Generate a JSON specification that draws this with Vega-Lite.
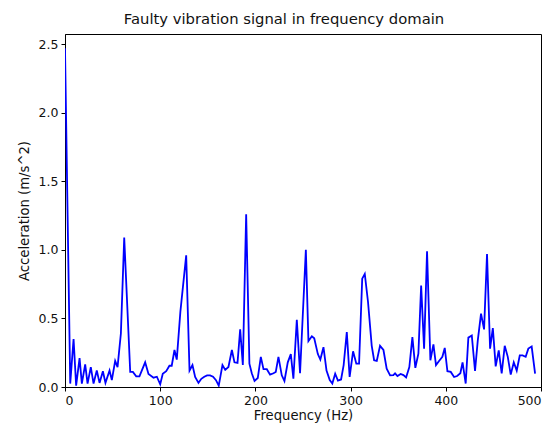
{
  "$schema": "https://vega.github.io/schema/vega-lite/v6.json",
  "autosize": "none",
  "width": 476,
  "height": 353,
  "padding": {"left": 65, "top": 34, "right": 9, "bottom": 40},
  "background": "white",
  "title": {"text": "Faulty vibration signal in frequency domain", "font": "DejaVu Sans", "fontSize": 14.8, "fontWeight": "normal", "color": "#111111", "offset": 7, "anchor": "middle", "dx": -19},
  "config": {
    "view": {"stroke": "black", "strokeWidth": 1},
    "axis": {"grid": false, "domainColor": "black", "tickColor": "black", "labelColor": "#111111", "titleColor": "#111111", "labelFont": "DejaVu Sans", "titleFont": "DejaVu Sans", "labelFontSize": 12.5, "titleFontSize": 13.2, "titleFontWeight": "normal", "tickSize": 4, "labelPadding": 3, "domainWidth": 1, "tickWidth": 1}
  },
  "data": {"values": [
    {"f": 0, "a": 2.47}, {"f": 5.5, "a": 0.025}, {"f": 9.0, "a": 0.35}, {"f": 11.7, "a": 0.01},
    {"f": 15.3, "a": 0.21}, {"f": 17.7, "a": 0.025}, {"f": 21.2, "a": 0.165}, {"f": 23.7, "a": 0.025},
    {"f": 27.1, "a": 0.145}, {"f": 30.0, "a": 0.025}, {"f": 33.4, "a": 0.12}, {"f": 36.3, "a": 0.03},
    {"f": 39.8, "a": 0.115}, {"f": 42.5, "a": 0.03}, {"f": 46.8, "a": 0.12}, {"f": 49.2, "a": 0.05},
    {"f": 52.7, "a": 0.19}, {"f": 55.2, "a": 0.145}, {"f": 58.7, "a": 0.39}, {"f": 62.2, "a": 1.09},
    {"f": 68.5, "a": 0.11}, {"f": 71.3, "a": 0.11}, {"f": 74.8, "a": 0.078}, {"f": 78.2, "a": 0.078},
    {"f": 84.2, "a": 0.18}, {"f": 87.7, "a": 0.095}, {"f": 93.0, "a": 0.068}, {"f": 96.5, "a": 0.075},
    {"f": 100.0, "a": 0.02}, {"f": 102.7, "a": 0.097}, {"f": 106.3, "a": 0.115}, {"f": 109.7, "a": 0.155},
    {"f": 112.1, "a": 0.155}, {"f": 115.0, "a": 0.27}, {"f": 117.4, "a": 0.2}, {"f": 121.2, "a": 0.55},
    {"f": 127.3, "a": 0.96}, {"f": 130.8, "a": 0.12}, {"f": 133.9, "a": 0.16}, {"f": 136.7, "a": 0.073},
    {"f": 140.2, "a": 0.03}, {"f": 143.2, "a": 0.06}, {"f": 146.3, "a": 0.075}, {"f": 149.3, "a": 0.085},
    {"f": 152.4, "a": 0.085}, {"f": 155.5, "a": 0.075}, {"f": 158.6, "a": 0.05}, {"f": 161.5, "a": 0.01},
    {"f": 165.4, "a": 0.16}, {"f": 168.3, "a": 0.125}, {"f": 171.7, "a": 0.146}, {"f": 175.3, "a": 0.27},
    {"f": 178.0, "a": 0.18}, {"f": 181.2, "a": 0.175}, {"f": 184.0, "a": 0.42}, {"f": 186.8, "a": 0.16},
    {"f": 190.3, "a": 1.26}, {"f": 193.7, "a": 0.17}, {"f": 196.2, "a": 0.1}, {"f": 199.1, "a": 0.044},
    {"f": 202.5, "a": 0.066}, {"f": 205.7, "a": 0.22}, {"f": 208.5, "a": 0.13}, {"f": 212.0, "a": 0.13},
    {"f": 215.4, "a": 0.09}, {"f": 219.0, "a": 0.1}, {"f": 221.4, "a": 0.11}, {"f": 224.2, "a": 0.22},
    {"f": 227.7, "a": 0.085}, {"f": 230.5, "a": 0.044}, {"f": 234.0, "a": 0.18}, {"f": 237.2, "a": 0.24},
    {"f": 239.9, "a": 0.06}, {"f": 243.5, "a": 0.49}, {"f": 246.9, "a": 0.1}, {"f": 253.0, "a": 1.0},
    {"f": 255.7, "a": 0.335}, {"f": 259.3, "a": 0.37}, {"f": 261.8, "a": 0.355}, {"f": 265.6, "a": 0.24},
    {"f": 268.2, "a": 0.2}, {"f": 271.5, "a": 0.29}, {"f": 274.7, "a": 0.12}, {"f": 278.1, "a": 0.05},
    {"f": 280.8, "a": 0.025}, {"f": 283.8, "a": 0.097}, {"f": 286.7, "a": 0.047}, {"f": 290.0, "a": 0.055},
    {"f": 292.7, "a": 0.16}, {"f": 296.0, "a": 0.4}, {"f": 299.0, "a": 0.073}, {"f": 302.6, "a": 0.26},
    {"f": 306.0, "a": 0.17}, {"f": 308.9, "a": 0.17}, {"f": 312.2, "a": 0.79}, {"f": 314.9, "a": 0.825},
    {"f": 318.3, "a": 0.62}, {"f": 322.2, "a": 0.3}, {"f": 324.7, "a": 0.195}, {"f": 327.5, "a": 0.19},
    {"f": 330.9, "a": 0.3}, {"f": 334.5, "a": 0.27}, {"f": 337.9, "a": 0.134}, {"f": 341.5, "a": 0.085},
    {"f": 344.9, "a": 0.087}, {"f": 346.7, "a": 0.1}, {"f": 349.2, "a": 0.08}, {"f": 352.6, "a": 0.095},
    {"f": 355.5, "a": 0.087}, {"f": 358.3, "a": 0.07}, {"f": 361.7, "a": 0.146}, {"f": 364.9, "a": 0.364},
    {"f": 368.0, "a": 0.14}, {"f": 371.2, "a": 0.243}, {"f": 374.1, "a": 0.74}, {"f": 377.2, "a": 0.28},
    {"f": 380.3, "a": 0.99}, {"f": 383.8, "a": 0.195}, {"f": 387.0, "a": 0.31}, {"f": 389.7, "a": 0.16},
    {"f": 392.9, "a": 0.19}, {"f": 396.4, "a": 0.22}, {"f": 398.9, "a": 0.285}, {"f": 401.7, "a": 0.115},
    {"f": 405.2, "a": 0.11}, {"f": 408.7, "a": 0.073}, {"f": 411.9, "a": 0.08}, {"f": 415.3, "a": 0.1},
    {"f": 417.6, "a": 0.18}, {"f": 420.9, "a": 0.025}, {"f": 423.7, "a": 0.36}, {"f": 427.3, "a": 0.376},
    {"f": 430.7, "a": 0.117}, {"f": 433.6, "a": 0.34}, {"f": 437.0, "a": 0.535}, {"f": 440.2, "a": 0.42},
    {"f": 443.3, "a": 0.97}, {"f": 446.5, "a": 0.28}, {"f": 449.4, "a": 0.43}, {"f": 452.4, "a": 0.15},
    {"f": 455.6, "a": 0.267}, {"f": 458.7, "a": 0.1}, {"f": 461.9, "a": 0.3}, {"f": 465.1, "a": 0.22},
    {"f": 468.2, "a": 0.09}, {"f": 471.4, "a": 0.18}, {"f": 474.5, "a": 0.12}, {"f": 477.7, "a": 0.23},
    {"f": 480.7, "a": 0.23}, {"f": 483.9, "a": 0.22}, {"f": 486.7, "a": 0.28}, {"f": 490.2, "a": 0.295},
    {"f": 493.8, "a": 0.097}
  ]},
  "mark": {"type": "line", "color": "#0000ff", "strokeWidth": 1.8, "clip": true},
  "encoding": {
    "x": {"field": "f", "type": "quantitative", "scale": {"domain": [0, 500], "nice": false, "zero": false},
      "axis": {"values": [0, 100, 200, 300, 400, 500], "title": "Frequency (Hz)", "titlePadding": 3}},
    "y": {"field": "a", "type": "quantitative", "scale": {"domain": [0, 2.574], "nice": false},
      "axis": {"values": [0, 0.5, 1, 1.5, 2, 2.5], "format": ".1f", "title": "Acceleration (m/s^2)", "titlePadding": 7}}
  }
}
